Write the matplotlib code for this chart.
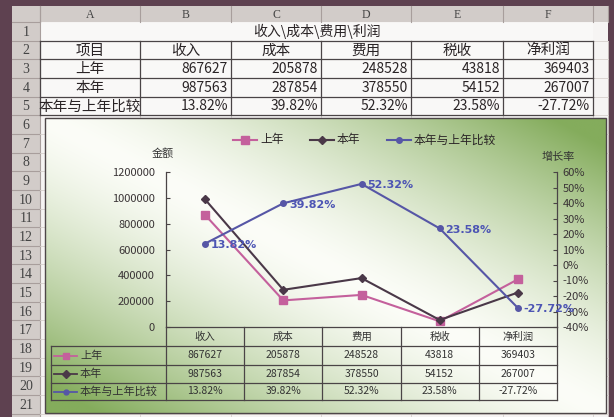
import numpy as np
import matplotlib
matplotlib.use("Agg")
import matplotlib.pyplot as plt
from matplotlib.patches import Rectangle
from matplotlib.lines import Line2D
from matplotlib.ticker import FuncFormatter

plt.rcParams['font.family'] = ['Noto Sans CJK SC', 'DejaVu Sans']

# Sheet data
title = "收入\\成本\\费用\\利润"
row_head = "项目"
categories = ["收入", "成本", "费用", "税收", "净利润"]
series_names = ["上年", "本年", "本年与上年比较"]
last_year = [867627, 205878, 248528, 43818, 369403]
this_year = [987563, 287854, 378550, 54152, 267007]
change_pct = [13.82, 39.82, 52.32, 23.58, -27.72]
col_letters = ["A", "B", "C", "D", "E", "F"]

W, H = 614, 417
fig = plt.figure(figsize=(W / 100, H / 100), dpi=100)
fig.patch.set_facecolor("#5e4150")

sheet = fig.add_axes([0, 0, 1, 1])
sheet.set_xlim(0, W)
sheet.set_ylim(H, 0)
sheet.axis("off")

# Spreadsheet geometry (pixels)
frame_l = 12
col_x = [40, 140, 231, 321, 411, 503, 593, 608]
hdr_top, hdr_bot = 6, 22
row_h = 18.65
n_rows = 22
row_y = [hdr_bot + k * row_h for k in range(n_rows + 1)]

ink = "#2a2426"
grid_c = "#d6d0cc"

# cell area, headers
sheet.add_patch(Rectangle((frame_l, hdr_top), 608 - frame_l, H - hdr_top, facecolor="#f6f4f3", edgecolor="none"))
sheet.add_patch(Rectangle((frame_l, hdr_top), 608 - frame_l, hdr_bot - hdr_top, facecolor="#d2ccc9", edgecolor="none"))
sheet.add_patch(Rectangle((frame_l, hdr_top), col_x[0] - frame_l, H - hdr_top, facecolor="#d2ccc9", edgecolor="none"))

for x in col_x:
    sheet.plot([x, x], [hdr_top, hdr_bot], color="#a89e9c", lw=0.8)
for i, letter in enumerate(col_letters):
    sheet.text((col_x[i] + col_x[i + 1]) / 2, (hdr_top + hdr_bot) / 2 + 1, letter,
               family="Liberation Serif", fontsize=8.5, color="#444", ha="center", va="center")
for k in range(n_rows + 1):
    y = row_y[k]
    sheet.plot([frame_l, col_x[0]], [y, y], color="#a89e9c", lw=0.8)
    if k < n_rows:
        sheet.text((frame_l + col_x[0]) / 2, y + row_h / 2 + 1, str(k + 1),
                   family="Liberation Serif", fontsize=10, color="#444",
                   ha="center", va="center")
sheet.plot([col_x[0], col_x[0]], [hdr_top, H], color="#a89e9c", lw=0.8)

# faint sheet gridlines
for y in row_y[1:]:
    sheet.plot([col_x[0], col_x[-1]], [y, y], color=grid_c, lw=0.6)
for x in col_x[1:]:
    sheet.plot([x, x], [row_y[1], H], color=grid_c, lw=0.6)

# row 1: merged title
sheet.add_patch(Rectangle((col_x[0] + 1, row_y[0] + 1), col_x[6] - col_x[0] - 1, row_h - 1,
                          facecolor="#f9f8f7", edgecolor="none"))
sheet.text((col_x[0] + col_x[6]) / 2, row_y[0] + row_h / 2, title,
           fontsize=10, color=ink, ha="center", va="center")

# rows 2-5: bordered table
t_top, t_bot = row_y[1], row_y[5]
sheet.add_patch(Rectangle((col_x[0], t_top), col_x[6] - col_x[0], t_bot - t_top,
                          facecolor="#f9f8f7", edgecolor="none"))
for k in range(1, 6):
    sheet.plot([col_x[0], col_x[6]], [row_y[k], row_y[k]], color="#4a4446", lw=0.9)
for x in col_x[:7]:
    sheet.plot([x, x], [t_top, t_bot], color="#4a4446", lw=0.9)

def cy(r):
    return row_y[r - 1] + row_h / 2 + 0.5

sheet.text((col_x[0] + col_x[1]) / 2, cy(2), row_head, fontsize=10.5, color=ink, ha="center", va="center")
for i, c in enumerate(categories):
    sheet.text((col_x[i + 1] + col_x[i + 2]) / 2, cy(2), c, fontsize=10.5, color=ink, ha="center", va="center")
for r, lab in zip([3, 4, 5], series_names):
    sheet.text((col_x[0] + col_x[1]) / 2, cy(r), lab, fontsize=10.5, color=ink, ha="center", va="center")
for i in range(5):
    xr = col_x[i + 2] - 3
    sheet.text(xr, cy(3), f"{last_year[i]}", fontsize=10, color=ink, ha="right", va="center")
    sheet.text(xr, cy(4), f"{this_year[i]}", fontsize=10, color=ink, ha="right", va="center")
    sheet.text(xr, cy(5), f"{change_pct[i]:.2f}%", fontsize=10, color=ink, ha="right", va="center")

# ---- chart object ----
cx0, cx1, cy0, cy1 = 45, 606, 118, 413
green = np.array([132, 172, 92]) / 255
white = np.array([252, 253, 248]) / 255
u = np.linspace(0, 1, 300)[None, :]
v = np.linspace(1, 0, 160)[:, None]
t = np.clip(np.abs(u + v - 1) * 1.1, 0, 1) ** 1.4
grad = white[None, None, :] * (1 - t[..., None]) + green[None, None, :] * t[..., None]
sheet.imshow(grad, extent=(cx0, cx1, cy1, cy0), aspect="auto", interpolation="bilinear", zorder=2)
sheet.add_patch(Rectangle((cx0, cy0), cx1 - cx0, cy1 - cy0, facecolor="none",
                          edgecolor="#4d4648", lw=1.0, zorder=3))

pink = "#c4609c"
dark = "#4a3848"
blue = "#5656a6"
label_blue = "#4d55b4"

# plot area
px0, px1, py_top, py_bot = 166, 557, 172, 327
ax = fig.add_axes([px0 / W, 1 - py_bot / H, (px1 - px0) / W, (py_bot - py_top) / H])
ax.patch.set_alpha(0)
ax.set_zorder(5)
xs = np.arange(len(categories))
ax.plot(xs, last_year, color=pink, lw=1.5, marker="s", markersize=5.5,
        markerfacecolor=pink, markeredgecolor=pink)
ax.plot(xs, this_year, color=dark, lw=1.5, marker="D", markersize=4.5,
        markerfacecolor=dark, markeredgecolor=dark)
ax.set_xlim(-0.5, len(categories) - 0.5)
ax.set_ylim(0, 1200000)
ax.set_yticks(np.arange(0, 1200001, 200000))
ax.yaxis.set_major_formatter(FuncFormatter(lambda y, p: f"{int(y)}"))
ax.set_xticks([])
for s in ["top", "right", "bottom"]:
    ax.spines[s].set_visible(False)
ax.spines["left"].set_color("#4a4446")
ax.spines["left"].set_linewidth(0.9)
ax.tick_params(axis="y", direction="in", length=3, pad=8, labelsize=8, colors="#4a4446",
               labelcolor="#3a3436")

ax2 = ax.twinx()
ax2.patch.set_alpha(0)
ax2.plot(xs, np.array(change_pct) / 100, color=blue, lw=1.5, marker="o", markersize=4,
         markerfacecolor=blue, markeredgecolor=blue)
for x, val in zip(xs, change_pct):
    ax2.annotate(f"{val:.2f}%", (x, val / 100), xytext=(4, -1), textcoords="offset points",
                 fontsize=8, fontweight="bold", color=label_blue, va="center", ha="left",
                 family="DejaVu Sans")
ax2.set_ylim(-0.4, 0.6)
ax2.set_yticks(np.arange(-0.4, 0.61, 0.1))
ax2.yaxis.set_major_formatter(FuncFormatter(lambda y, p: f"{round(y * 100)}%"))
for s in ["top", "left", "bottom"]:
    ax2.spines[s].set_visible(False)
ax2.spines["right"].set_color("#4a4446")
ax2.spines["right"].set_linewidth(0.9)
ax2.tick_params(axis="y", direction="in", length=3, pad=4, labelsize=8, colors="#4a4446",
                labelcolor="#3a3436")

# axis titles
sheet.text(163, 153, "金额", fontsize=8, color="#333", ha="center", va="center", zorder=4)
sheet.text(558, 157, "增长率", fontsize=8, color="#333", ha="center", va="center", zorder=4)

# legend row
leg_y = 140
styles = [(pink, "s", 5.5), (dark, "D", 4.5), (blue, "o", 4)]
leg_x = [233, 310, 387]
for (col, mk, ms), x0, name in zip(styles, leg_x, series_names):
    sheet.add_line(Line2D([x0, x0 + 24], [leg_y, leg_y], color=col, lw=1.5, zorder=4))
    sheet.add_line(Line2D([x0 + 12], [leg_y], color=col, marker=mk, markersize=ms, lw=0, zorder=4))
    sheet.text(x0 + 27, leg_y, name, fontsize=8.5, color="#2a2426", ha="left", va="center", zorder=4)

# data table below the plot
tab_left = 51
cell_w = (px1 - px0) / len(categories)
tr = [py_bot, 346, 365, 383, 400]
tcol = "#4a4446"
for k, y in enumerate(tr):
    xl = px0 if k == 0 else tab_left
    sheet.plot([xl, px1], [y, y], color=tcol, lw=0.9, zorder=4)
sheet.plot([tab_left, tab_left], [tr[1], tr[-1]], color=tcol, lw=0.9, zorder=4)
for i in range(len(categories) + 1):
    x = px0 + i * cell_w
    sheet.plot([x, x], [tr[0], tr[-1]], color=tcol, lw=0.9, zorder=4)

tfs = 7.5
for i, c in enumerate(categories):
    xc = px0 + (i + 0.5) * cell_w
    sheet.text(xc, (tr[0] + tr[1]) / 2, c, fontsize=tfs, color="#333", ha="center", va="center", zorder=4)
    sheet.text(xc, (tr[1] + tr[2]) / 2, f"{last_year[i]}", fontsize=tfs, color="#333",
               ha="center", va="center", zorder=4)
    sheet.text(xc, (tr[2] + tr[3]) / 2, f"{this_year[i]}", fontsize=tfs, color="#333",
               ha="center", va="center", zorder=4)
    sheet.text(xc, (tr[3] + tr[4]) / 2, f"{change_pct[i]:.2f}%", fontsize=tfs, color="#333",
               ha="center", va="center", zorder=4)
for k, ((col, mk, ms), name) in enumerate(zip(styles, series_names)):
    y = (tr[k + 1] + tr[k + 2]) / 2
    sheet.add_line(Line2D([54, 77], [y, y], color=col, lw=1.3, zorder=4))
    sheet.add_line(Line2D([65.5], [y], color=col, marker=mk, markersize=ms - 0.5, lw=0, zorder=4))
    sheet.text(80, y, name, fontsize=8, color="#333", ha="left", va="center", zorder=4)

fig.savefig("out.png", dpi=100, facecolor=fig.get_facecolor())
